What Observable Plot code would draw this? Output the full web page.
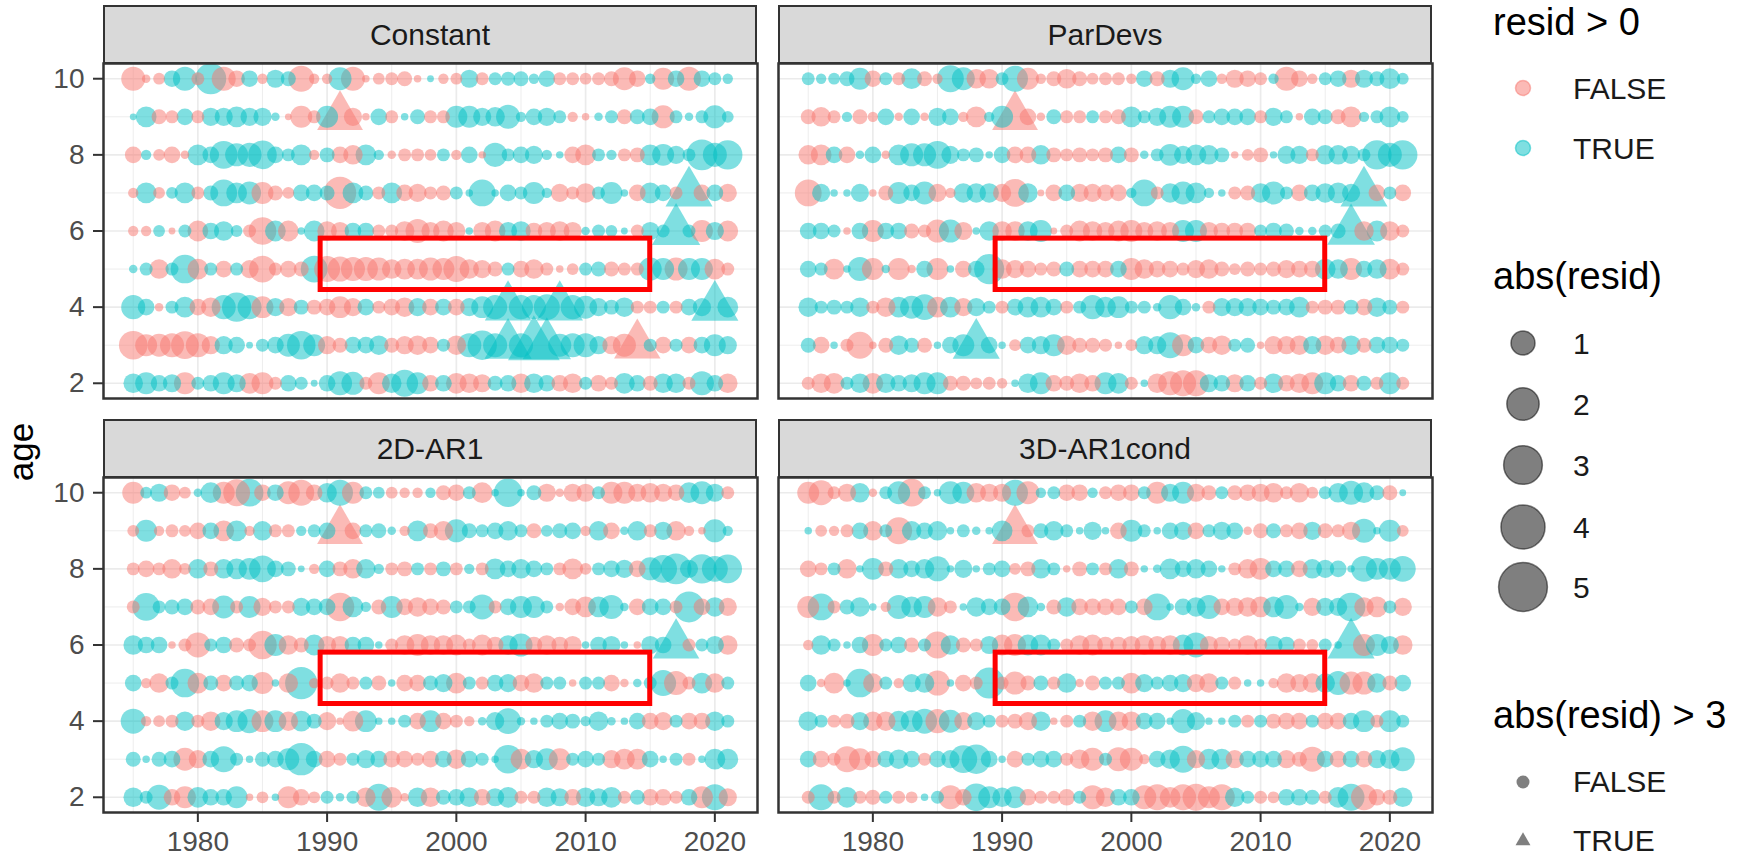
<!DOCTYPE html>
<html>
<head>
<meta charset="utf-8">
<script src="https://cdn.jsdelivr.net/npm/d3@7"></script>
<script src="https://cdn.jsdelivr.net/npm/@observablehq/plot@0.6"></script>
<style>
  body { margin: 0; background: #fff; font-family: "Liberation Sans", Arial, sans-serif; }
  #root { position: relative; width: 1750px; height: 858px; overflow: hidden; background: #fff; }
  .strip { position: absolute; box-sizing: border-box; background: #D9D9D9; border: 2px solid #333;
           display: flex; align-items: center; justify-content: center; font-size: 30px; color: #1A1A1A; }
  .panel { position: absolute; }
  .panel svg { max-width: none; }
</style>
</head>
<body>
<div id="root"></div>
<script>
// ---- data -------------------------------------------------------------
const years = [1975,1976,1977,1978,1979,1980,1981,1982,1983,1984,1985,1986,1987,1988,1989,1990,
  1991,1992,1993,1994,1995,1996,1997,1998,1999,2000,2001,2002,2003,2004,2005,2006,2007,2008,
  2009,2010,2011,2012,2013,2014,2015,2016,2017,2018,2019,2020,2021];
const ages = [10, 9, 8, 7, 6, 5, 4, 3, 2];
const models = ["Constant", "ParDevs", "2D-AR1", "3D-AR1cond"];

// residuals, one row per age (10 down to 2), one value per year
const residConstant = [
  [-1.0,-0.05,-0.15,0.4,1.0,-0.2,1.8,-1.0,-0.4,0.4,-0.1,0.5,0.3,-1.2,-0.1,-0.1,0.9,-1.0,-0.03,-0.15,-0.2,-0.3,-0.03,0.02,-0.1,-0.15,0.5,-0.2,0.2,0.25,0.3,0.1,0.4,-0.2,-0.2,-0.15,-0.2,-0.3,-0.9,-0.4,0.1,-0.8,0.4,-1.0,0.4,0.2,0.1],
  [0.02,0.7,-0.3,-0.2,0.4,-0.2,0.5,0.5,0.7,0.5,0.5,0.05,-0.02,-0.8,-0.2,0.8,-3.2,-0.5,-0.03,0.4,-0.2,0.03,0.3,-0.2,-0.2,0.8,0.8,0.5,0.6,1.0,0.1,0.4,0.5,0.2,-0.1,-0.03,0.05,0.2,-0.3,0.3,0.4,-0.9,0.2,0.05,0.2,0.9,0.15],
  [-0.4,0.1,-0.15,-0.4,-0.05,0.7,0.4,1.4,0.9,1.0,1.5,0.4,0.2,0.7,-0.1,0.3,-0.4,-0.6,0.7,0.1,-0.05,-0.2,-0.2,-0.15,0.2,-0.1,0.4,-0.03,1.0,0.2,0.4,0.5,0.1,0.03,-0.4,-0.7,0.2,0.1,-0.2,-0.3,0.7,0.8,0.5,0.2,1.8,1.0,1.6],
  [-0.1,0.7,-0.15,0.15,0.7,-0.2,0.3,1.3,0.7,0.9,-0.8,-0.3,-0.15,0.4,0.4,0.3,-2.0,0.7,0.3,-0.2,0.7,-0.4,-0.5,-0.2,-0.3,0.2,0.03,1.3,0.03,0.4,0.2,0.8,0.1,-0.5,-0.2,-0.6,0.2,0.8,0.03,-0.4,0.7,0.4,-0.2,3.4,-0.4,0.4,-0.5],
  [-0.1,-0.1,0.15,-0.02,0.2,-0.7,0.4,0.6,0.15,-0.2,-1.4,0.7,-0.7,0.03,0.7,-0.6,-0.5,0.4,0.4,-0.2,-0.2,-0.6,-1.0,-0.5,-0.7,-0.5,0.03,-0.5,-0.7,0.5,0.6,-0.4,-0.5,-0.6,-0.5,0.05,0.2,0.15,0.02,-0.2,0.5,0.2,3.6,0.2,-0.8,0.5,-0.7],
  [0.05,0.2,-0.6,0.2,1.5,-0.7,0.2,-0.4,0.2,-0.5,-1.3,-0.2,-0.4,-0.3,1.3,-1.2,-1.1,-1.0,-1.0,-0.9,-0.6,-0.7,-0.7,-0.9,-0.8,-1.2,-0.6,-0.5,-0.3,0.2,-0.4,-0.6,-0.2,-0.03,-0.15,0.2,0.3,-0.3,-0.2,-0.2,0.9,0.8,-0.9,0.8,0.8,-0.7,-0.2],
  [1.0,0.4,-0.05,0.2,0.7,-0.4,-0.6,1.0,1.6,1.0,-0.8,0.5,-0.5,0.3,-0.3,-0.4,-0.8,-0.5,0.4,-0.2,-0.4,-0.6,0.5,-0.4,0.4,-0.4,0.5,0.8,1.0,3.3,1.0,1.0,1.2,3.3,1.0,0.9,0.5,0.3,0.6,-0.2,-0.2,0.2,-0.2,0.4,0.5,3.4,0.7],
  [-1.5,-0.8,-0.9,-1.0,-1.4,-1.0,-0.5,0.5,0.4,0.02,0.2,0.4,0.9,1.5,0.8,-0.5,-0.3,0.4,0.4,0.6,-0.3,-0.5,-0.6,-0.4,0.2,-0.6,1.0,1.6,1.0,3.4,1.0,4.2,3.6,0.9,1.0,1.0,0.5,-0.5,-0.9,-3.3,0.2,-0.4,0.2,-0.4,0.4,0.8,0.5],
  [0.6,0.8,0.4,0.5,-0.8,0.2,0.4,0.8,0.5,-0.7,-0.8,-0.2,0.4,0.2,0.02,0.4,1.0,0.9,-0.2,-0.8,0.6,1.3,0.8,-0.4,0.4,-0.7,-0.6,-0.5,0.3,0.4,-0.6,0.6,0.4,-0.4,-0.6,0.2,-0.4,-0.2,0.7,0.4,-0.3,0.6,0.6,-0.2,1.0,0.4,-0.6]
];
const residParDevs = [
  [0.2,0.1,0.15,0.3,0.8,-0.4,0.2,-0.2,0.7,-0.3,-0.1,1.3,0.9,-0.6,-0.6,0.2,1.2,-0.8,-0.1,-0.3,-0.6,-0.3,-0.15,-0.2,-0.2,-0.1,0.4,-0.3,0.5,0.9,0.1,0.4,-0.1,-0.5,-0.4,-0.2,0.1,-1.0,-0.4,-0.1,0.2,0.4,-0.5,0.5,0.3,0.7,0.15],
  [-0.3,-0.6,-0.2,0.1,-0.3,-0.1,0.4,-0.05,0.4,-0.05,0.5,0.4,-0.1,-0.7,0.1,0.8,-3.2,-0.4,-0.05,0.3,-0.2,-0.2,0.2,-0.2,-0.3,0.7,0.2,0.5,0.8,0.8,-0.3,0.2,0.4,0.4,0.4,-0.2,0.5,0.2,-0.03,0.4,0.3,-0.3,-0.7,0.1,0.2,0.7,0.15],
  [-0.6,-0.7,0.4,-0.4,0.05,0.4,-0.05,0.7,0.9,0.9,1.4,0.5,0.2,0.3,0.03,0.4,-0.4,-0.4,0.6,-0.3,-0.2,-0.3,-0.2,-0.3,0.4,-0.3,0.05,0.2,0.8,0.5,0.7,0.6,0.3,-0.03,-0.15,-0.3,0.03,0.5,0.5,-0.2,0.6,0.6,0.5,0.2,1.6,1.0,1.6],
  [-1.3,0.5,0.03,0.03,0.5,-0.03,-0.3,0.8,0.4,0.9,-0.5,-0.1,0.6,0.6,0.6,-0.5,-1.4,0.6,-0.02,-0.4,0.4,-0.5,-0.5,-0.4,-0.4,0.1,1.3,-0.2,0.6,0.9,0.7,0.1,0.03,-0.2,-0.3,0.6,0.9,0.2,-0.4,0.4,0.6,0.7,0.5,3.4,-0.4,0.2,-0.4],
  [0.4,0.4,0.2,-0.03,0.4,-0.8,0.4,0.4,-0.3,-0.2,-0.9,0.9,-0.5,0.03,0.6,-0.6,-0.6,0.6,0.8,-0.02,-0.2,-0.7,-0.6,-0.5,-0.7,-0.8,-0.5,-0.6,-0.5,0.8,0.8,-0.5,-0.4,-0.4,-0.4,0.2,0.4,0.3,0.05,0.05,0.2,0.3,3.5,-0.6,0.7,-0.6,-0.2],
  [0.4,0.2,-0.7,0.03,1.0,-0.8,0.05,-0.8,-0.05,0.4,-0.8,0.03,-0.4,0.4,1.7,-0.6,-0.5,-0.4,-0.2,-0.3,0.3,-0.4,-0.4,-0.4,0.4,-0.8,-0.6,-0.4,-0.4,-0.2,-0.5,-0.6,-0.3,-0.15,-0.3,-0.2,-0.3,-0.5,-0.4,-0.4,0.7,0.6,-0.8,0.4,0.6,-0.7,-0.2],
  [0.6,0.2,0.3,0.2,0.6,-0.2,-0.6,0.7,0.9,1.2,-0.7,0.7,-0.5,0.5,0.2,-0.2,0.4,0.7,0.7,0.4,-0.2,0.2,1.0,0.7,0.8,0.2,0.2,0.05,1.0,0.4,0.05,-0.2,0.5,0.5,0.5,0.4,0.3,0.4,0.7,-0.2,-0.3,-0.3,0.3,-0.4,0.6,0.3,-0.2],
  [0.3,-0.4,0.03,-0.2,-1.3,-0.03,-0.3,0.6,0.3,-0.3,0.03,0.4,0.8,3.4,0.4,0.03,-0.15,0.4,0.5,0.8,-0.6,-0.3,-0.3,-0.2,-0.03,-0.15,0.5,0.5,1.2,-0.8,0.4,-0.4,-0.6,0.2,0.3,-0.03,-0.5,-0.5,-0.6,0.5,-0.6,-0.4,0.6,-0.3,0.4,0.4,0.2],
  [-0.2,-0.6,-0.7,0.2,0.6,-0.7,0.6,0.4,0.5,0.8,0.8,-0.3,-0.3,-0.15,-0.2,-0.1,0.03,0.6,0.8,-0.4,-0.3,-0.6,-0.4,0.8,0.7,-0.2,0.03,-0.6,-1.0,-1.2,-1.2,0.5,0.4,-0.5,0.4,-0.2,0.6,-0.4,-0.6,-0.8,0.8,0.4,-0.4,0.3,-0.2,0.8,-0.2]
];
const resid2DAR1 = [
  [-0.8,0.15,0.5,-0.4,-0.15,0.05,0.7,-0.8,-1.3,1.4,-0.4,0.4,-0.9,-1.2,-0.4,0.6,1.2,-0.8,0.2,0.15,-0.15,-0.1,-0.1,0.1,-0.3,-0.4,0.2,-0.7,0.03,1.5,0.03,0.3,-0.5,-0.05,-0.5,-0.5,0.2,-0.8,-0.8,-0.5,-0.6,-0.5,-0.4,0.7,0.9,0.5,-0.2],
  [-0.15,0.8,-0.1,-0.2,-0.15,-0.4,0.4,-0.7,0.7,-0.1,0.6,-0.2,-0.2,0.1,0.2,0.4,-3.2,-0.4,0.2,0.3,0.05,-0.1,0.7,-0.3,-0.6,0.9,0.3,0.2,0.4,0.6,0.2,-0.3,0.15,0.3,0.4,-0.1,0.6,-0.4,0.05,0.6,-0.2,0.5,-0.6,-0.1,-0.03,0.9,0.1],
  [-0.2,-0.4,-0.2,-0.6,-0.15,0.6,-0.3,0.6,0.7,0.8,1.3,0.4,0.3,0.02,-0.1,0.4,-0.3,-0.6,0.6,0.1,-0.2,-0.3,0.2,-0.2,0.3,-0.2,0.1,-0.2,0.7,0.4,0.6,0.4,0.2,-0.2,-0.7,-0.15,0.2,0.4,0.5,-0.4,0.9,1.4,1.8,0.5,1.6,1.2,1.5],
  [-0.2,1.4,0.2,0.3,0.4,-0.3,-0.4,0.9,-0.2,0.8,-0.5,-0.2,-0.2,0.5,0.4,0.4,-1.5,0.7,0.1,-0.3,0.8,-0.4,-0.6,-0.4,-0.3,0.2,0.2,1.1,-0.2,0.4,0.8,0.8,0.2,-0.05,-0.4,-0.7,0.7,1.0,0.05,-0.4,0.4,0.4,-0.2,1.8,-0.4,0.6,-0.5],
  [0.6,0.4,0.4,-0.03,-0.2,-1.1,0.2,0.4,-0.3,-0.2,-1.5,0.8,-0.6,-0.3,0.7,-0.5,-0.5,0.4,0.4,0.03,-0.2,-0.6,-0.8,-0.6,-0.6,-0.7,-0.2,-0.7,-0.4,0.6,0.9,-0.4,-0.6,-0.4,-0.5,0.03,0.4,0.5,0.03,-0.03,0.5,0.4,3.3,-0.2,0.2,0.5,-0.6],
  [0.4,-0.1,-0.6,0.2,1.5,-0.7,0.3,-0.4,0.3,0.4,-0.8,0.03,-0.6,2.0,-0.1,-0.2,-0.6,-0.2,0.2,-0.3,0.03,-0.4,-0.4,0.3,0.5,-0.7,0.2,-0.2,0.4,0.5,-0.4,-0.6,0.2,0.2,-0.03,0.2,0.2,-0.4,-0.05,0.05,0.2,1.2,-1.0,-0.2,0.7,-0.6,0.2],
  [1.1,-0.1,-0.15,-0.2,0.6,-0.2,-0.6,0.5,0.8,1.0,-0.8,0.8,-0.6,0.7,0.3,-0.5,-0.03,-0.7,0.8,0.03,0.03,0.2,-0.4,0.8,-0.4,-0.2,-0.1,0.05,0.5,1.2,0.05,0.03,0.2,0.4,0.3,0.1,0.6,0.05,0.03,0.4,-0.4,-0.5,0.2,-0.4,-0.4,0.6,0.2],
  [0.3,0.03,0.3,0.4,-0.9,-0.5,0.4,1.2,0.2,0.03,0.3,0.4,0.8,2.0,0.4,-0.4,-0.2,0.2,0.5,0.4,-0.4,-0.4,-0.2,-0.4,0.4,-0.6,0.4,0.2,0.03,1.5,-0.7,0.5,0.8,-0.8,0.2,0.4,0.2,-0.5,-0.7,-0.7,0.4,0.03,0.2,-0.2,0.03,0.7,0.7],
  [0.6,0.2,1.1,-0.4,-0.8,0.7,0.4,0.4,0.8,-0.03,-0.15,0.03,-0.8,-0.4,-0.15,0.2,0.05,0.2,-0.6,1.3,-0.7,-0.05,0.6,-0.6,0.3,0.4,0.6,-0.4,0.5,0.7,-0.2,-0.2,0.6,0.5,-0.4,0.6,0.5,0.7,-0.2,0.3,-0.4,-0.4,-0.2,0.4,-0.8,1.2,-0.5]
];
const resid3DAR1cond = [
  [-0.8,-1.1,-0.2,-0.5,0.6,-0.05,0.2,0.9,-1.4,0.2,0.03,0.9,0.8,-0.6,-0.5,-0.5,1.2,-0.9,0.1,0.2,-0.4,-0.4,0.1,-0.2,-0.4,-0.4,0.2,-0.8,0.5,0.8,-0.5,-0.3,0.2,-0.3,-0.4,-0.5,-0.6,-0.2,-0.6,-0.15,0.2,0.6,1.0,0.7,0.3,-0.3,0.02],
  [0.03,-0.15,-0.1,-0.2,0.4,-0.6,0.2,-1.3,0.6,0.4,0.6,0.03,0.2,0.05,0.03,0.7,-3.2,-0.2,0.3,0.6,0.2,0.03,0.5,0.03,-0.4,0.8,0.2,0.03,0.4,0.5,-0.4,0.2,0.5,0.4,-0.05,-0.3,0.3,-0.2,-0.4,0.5,-0.3,-0.2,-0.5,1.0,0.03,0.8,-0.15],
  [-0.4,-0.2,0.2,-0.6,0.03,0.8,-0.3,0.6,0.4,0.6,1.1,0.03,0.5,0.03,0.2,0.4,-0.15,-0.3,0.6,0.2,-0.03,-0.3,0.2,-0.2,0.6,-0.3,0.03,0.05,0.7,0.4,0.6,0.4,0.03,-0.2,-0.6,-0.8,0.4,0.4,-0.4,0.6,0.5,0.4,0.03,1.2,0.8,0.8,1.2],
  [-0.8,1.3,-0.2,0.3,0.6,0.03,-0.1,1.0,0.7,0.8,-0.6,-0.2,0.03,0.6,0.4,0.4,-1.5,0.7,0.05,-0.3,0.6,-0.4,-0.4,-0.4,-0.4,0.2,-0.4,1.3,0.03,0.4,0.6,1.0,-0.4,-0.5,-0.6,-0.7,0.7,1.0,0.05,-0.5,0.5,0.5,1.5,-0.6,-0.7,0.2,-0.5],
  [-0.1,0.6,0.2,0.03,0.4,-0.8,0.2,0.4,-0.3,0.2,-1.3,0.6,-0.3,-0.2,0.5,-0.7,-0.8,0.7,0.7,0.2,-0.2,-0.6,-0.7,-0.4,-0.4,-0.5,-0.6,-0.5,-0.6,0.7,1.1,-0.5,-0.4,-0.2,-0.6,-0.2,0.5,0.4,-0.2,-0.15,0.2,0.03,3.4,-0.8,0.8,0.5,-0.6],
  [0.4,-0.05,-0.7,0.03,1.5,-0.6,0.2,-0.1,0.5,0.6,-1.1,0.03,-0.4,-0.2,1.8,-0.2,-0.9,-0.3,0.3,-0.2,0.6,-0.05,-0.3,0.2,0.2,-0.7,0.5,0.2,0.4,0.5,-0.5,-0.6,0.2,-0.2,0.03,0.03,-0.1,-0.6,-0.5,-0.6,0.6,1.0,-0.9,-0.9,0.6,-0.3,0.4],
  [0.6,0.2,-0.2,-0.3,0.5,-0.6,-0.6,0.7,0.8,1.1,-1.0,0.9,-0.5,0.5,0.2,-0.2,-0.3,-0.5,0.6,-0.03,-0.2,0.2,-0.6,0.8,-0.6,-0.6,0.4,0.4,0.03,1.0,0.5,0.03,0.03,0.2,-0.2,0.2,-0.3,-0.4,-0.4,0.2,-0.4,-0.4,0.4,0.8,-0.2,0.8,0.2],
  [0.4,-0.4,-0.2,-1.2,-0.8,-0.4,0.4,0.6,0.4,-0.2,0.4,0.5,1.4,1.6,0.4,0.03,-0.4,0.2,0.4,0.4,-0.2,-0.6,-0.9,0.2,-1.0,-0.9,-0.1,0.4,0.6,1.3,-0.5,0.7,0.7,-0.5,0.4,0.4,0.4,-0.5,-0.3,-1.1,0.4,-0.4,0.4,-0.4,0.5,0.6,1.0],
  [-0.2,1.2,-0.2,0.7,-0.2,-0.3,0.2,-0.2,-0.15,0.03,0.2,-1.0,-0.4,1.4,0.8,0.6,0.8,-0.4,-0.2,-0.2,-0.4,0.2,-1.0,-0.6,0.4,0.4,-1.0,-1.2,-0.7,-1.2,-1.3,-0.8,-1.2,0.6,0.2,-0.2,-0.15,0.4,0.4,0.3,-0.2,0.7,1.3,-1.2,-0.4,-0.3,0.6]
];

// highlighted block drawn in every panel
const boxYears = [1989.5, 2015];
const boxAges = [4.45, 5.8];

// legend entries
const signLabels = ["FALSE", "TRUE"];
const sizeBreaks = [1, 2, 3, 4, 5];
const outlierLabels = ["FALSE", "TRUE"];

// ---- styling ----------------------------------------------------------
const colors = ["#F8766D", "#00BFC4"];
const font = "'Liberation Sans', Arial, sans-serif";
const rScale = d3.scaleSqrt().domain([0, 5]).range([2, 24.4]);

// triangle centred on its centroid, a little narrower than the equal-area default
const triangleSymbol = {
  draw(context, size) {
    const r = Math.sqrt(size / Math.PI);
    const s = 2.3 * r;
    const h = s * Math.sqrt(3) / 2;
    context.moveTo(0, -2 * h / 3);
    context.lineTo(s / 2, h / 3);
    context.lineTo(-s / 2, h / 3);
    context.closePath();
  }
};

const root = document.getElementById("root");
const PW = 654, PH = 335, STRIP = 58;
const layout = [
  {model: models[0], rows: residConstant, left: 103, top: 63, showX: false, showY: true},
  {model: models[1], rows: residParDevs, left: 778, top: 63, showX: false, showY: false},
  {model: models[2], rows: resid2DAR1, left: 103, top: 477, showX: true, showY: true},
  {model: models[3], rows: resid3DAR1cond, left: 778, top: 477, showX: true, showY: false}
];

for (const p of layout) {
  const data = [];
  p.rows.forEach((row, i) => row.forEach((v, j) => {
    data.push({model: p.model, age: ages[i], year: years[j], resid: v});
  }));

  const ml = p.showY ? 103 : 12, mr = 12, mt = 12, mb = p.showX ? 70 : 12;
  const marks = [
    Plot.gridX([1975, 1985, 1995, 2005, 2015], {stroke: "#EBEBEB", strokeOpacity: 1, strokeWidth: 0.9}),
    Plot.gridY([3, 5, 7, 9], {stroke: "#EBEBEB", strokeOpacity: 1, strokeWidth: 0.9}),
    Plot.gridX([1980, 1990, 2000, 2010, 2020], {stroke: "#EBEBEB", strokeOpacity: 1, strokeWidth: 1.7}),
    Plot.gridY([2, 4, 6, 8, 10], {stroke: "#EBEBEB", strokeOpacity: 1, strokeWidth: 1.7}),
    Plot.dot(data, {
      x: "year", y: "age",
      r: d => Math.abs(d.resid),
      fill: d => d.resid > 0,
      symbol: d => Math.abs(d.resid) > 3,
      fillOpacity: 0.5,
      clip: true
    }),
    Plot.rect([{x1: boxYears[0], x2: boxYears[1], y1: boxAges[0], y2: boxAges[1]}],
      {x1: "x1", x2: "x2", y1: "y1", y2: "y2", fill: "none", stroke: "#FF0000", strokeWidth: 5}),
    Plot.frame({stroke: "#333333", strokeWidth: 2.5})
  ];
  if (p.showX) marks.push(Plot.axisX([1980, 1990, 2000, 2010, 2020], {
    tickSize: 10, tickPadding: 9, fontSize: 28, stroke: "#333333", fill: "#4D4D4D",
    strokeWidth: 2, tickFormat: d => String(d), label: null
  }));
  if (p.showY) marks.push(Plot.axisY([2, 4, 6, 8, 10], {
    tickSize: 10, tickPadding: 9, fontSize: 28, stroke: "#333333", fill: "#4D4D4D",
    strokeWidth: 2, tickFormat: d => String(d), label: null
  }));

  const chart = Plot.plot({
    width: PW + ml + mr, height: PH + mt + mb,
    marginLeft: ml, marginRight: mr, marginTop: mt, marginBottom: mb,
    style: {background: "transparent", fontFamily: font, overflow: "visible"},
    x: {domain: [1972.7, 2023.3], axis: p.showX ? undefined : null},
    y: {domain: [1.6, 10.4], axis: p.showY ? undefined : null},
    r: {type: "sqrt", domain: [0, 5], range: [2, 24.4]},
    color: {domain: [false, true], range: colors},
    symbol: {domain: [false, true], range: [d3.symbolCircle, triangleSymbol]},
    marks
  });

  const holder = document.createElement("div");
  holder.className = "panel";
  holder.style.left = (p.left - ml) + "px";
  holder.style.top = (p.top - mt) + "px";
  holder.appendChild(chart);
  root.appendChild(holder);

  const strip = document.createElement("div");
  strip.className = "strip";
  strip.style.left = p.left + "px";
  strip.style.top = (p.top - STRIP) + "px";
  strip.style.width = PW + "px";
  strip.style.height = (STRIP + 1) + "px";
  strip.textContent = p.model;
  root.appendChild(strip);
}

// ---- y-axis title -----------------------------------------------------
const titleSvg = d3.select(root).append("svg")
  .attr("width", 60).attr("height", 858)
  .style("position", "absolute").style("left", "0px").style("top", "0px");
titleSvg.append("text")
  .attr("transform", "translate(33,452) rotate(-90)")
  .attr("text-anchor", "middle")
  .style("font-family", font).style("font-size", "35px").attr("fill", "#000")
  .text("age");

// ---- legends ----------------------------------------------------------
const leg = d3.select(root).append("svg")
  .attr("width", 310).attr("height", 858)
  .style("position", "absolute").style("left", "1440px").style("top", "0px")
  .style("font-family", font);
const keyX = 83, labelX = 133, titleX = 53;
const title = (txt, y) => leg.append("text").attr("x", titleX).attr("y", y)
  .style("font-size", "38px").attr("fill", "#000").text(txt);
const label = (txt, y) => leg.append("text").attr("x", labelX).attr("y", y)
  .style("font-size", "30px").attr("fill", "#1A1A1A").text(txt);

title("resid > 0", 35);
signLabels.forEach((t, i) => {
  const cy = [88, 148][i];
  leg.append("circle").attr("cx", keyX).attr("cy", cy).attr("r", 7.5)
    .attr("fill", colors[i]).attr("fill-opacity", 0.5)
    .attr("stroke", colors[i]).attr("stroke-opacity", 0.5).attr("stroke-width", 1.5);
  label(t, cy + 10.5);
});

title("abs(resid)", 289);
const sizeY = [343, 404, 465, 527, 587];
sizeBreaks.forEach((v, i) => {
  leg.append("circle").attr("cx", keyX).attr("cy", sizeY[i]).attr("r", rScale(v))
    .attr("fill", "#000").attr("fill-opacity", 0.5)
    .attr("stroke", "#000").attr("stroke-opacity", 0.5).attr("stroke-width", 1.5);
  label(String(v), sizeY[i] + 10.5);
});

title("abs(resid) > 3", 728);
leg.append("circle").attr("cx", keyX).attr("cy", 782).attr("r", 6.5)
  .attr("fill", "#000").attr("fill-opacity", 0.5);
leg.append("path")
  .attr("d", d3.symbol(triangleSymbol, Math.PI * 6.5 * 6.5)())
  .attr("transform", `translate(${keyX},841)`)
  .attr("fill", "#000").attr("fill-opacity", 0.5);
outlierLabels.forEach((t, i) => label(t, [792, 851][i]));
</script>
</body>
</html>
